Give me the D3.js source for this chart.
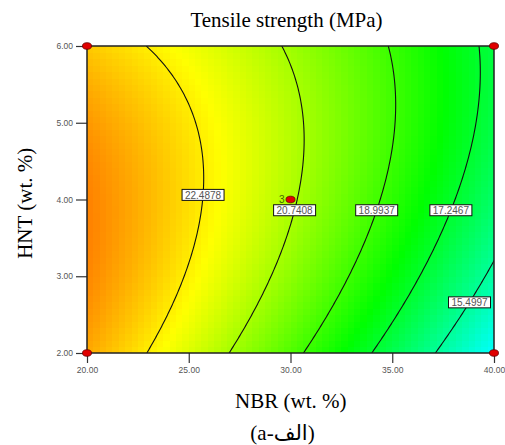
<!DOCTYPE html>
<html><head><meta charset="utf-8">
<script src="https://cdn.jsdelivr.net/npm/d3@7"></script>
<style>body{margin:0;background:#fff}</style>
</head><body>
<svg id="chart" width="505" height="445"></svg>
<script>
// ---- data ----
const nbrTicks = [20, 25, 30, 35, 40];
const hntTicks = [2, 3, 4, 5, 6];
const contourLevels = [22.4878, 20.7408, 18.9937, 17.2467, 15.4997];
const labelHNT = [4.06, 3.86, 3.86, 3.86, 2.66];
// fitted quadratic model in coded factors (A = NBR, B = HNT)
const modelTerms = ["Intercept", "A", "B", "AB", "A2", "B2"];
const modelCoefs = [20.873, -4.0, 0.65, 0.925, -0.6, -0.913];
const designNBR = [20, 20, 40, 40, 30];
const designHNT = [2, 6, 2, 6, 4];
const designLabels = ["", "", "", "", "3"];
const colorStops = [13.8, 24.3];
const hueStops = [180, 30];

const svg = d3.select("#chart");
const m = {l: 87, r: 494, t: 46, b: 353};
const x = d3.scaleLinear().domain([20, 40]).range([m.l, m.r]);
const y = d3.scaleLinear().domain([2, 6]).range([m.b, m.t]);
const hue = d3.scaleLinear().domain(colorStops).range(hueStops);

const [c0, cA, cB, cAB, cAA, cBB] = modelCoefs;
const codeA = v => (v - 30) / 10, codeB = v => (v - 4) / 2;
const f = (n, h) => { const a = codeA(n), b = codeB(h);
  return c0 + cA*a + cB*b + cAB*a*b + cAA*a*a + cBB*b*b; };
// solve for NBR on a contour at a given HNT
function solveNBR(L, h) {
  const b = codeB(h);
  const A = cAA, B = cA + cAB*b, C = c0 + cB*b + cBB*b*b - L;
  const d = B*B - 4*A*C; if (d < 0) return null;
  const r1 = (-B + Math.sqrt(d)) / (2*A), r2 = (-B - Math.sqrt(d)) / (2*A);
  const r = Math.abs(r1) < Math.abs(r2) ? r1 : r2;
  return 30 + 10*r;
}

// clip
svg.append("clipPath").attr("id", "clip").append("rect")
  .attr("x", m.l).attr("y", m.t).attr("width", m.r - m.l).attr("height", m.b - m.t);

// heat cells
const nCols = 64, nRows = 48;
const cells = [];
for (let i = 0; i < nCols; i++) for (let j = 0; j < nRows; j++) {
  const n0 = 20 + 20*i/nCols, n1 = 20 + 20*(i+1)/nCols;
  const h0 = 2 + 4*j/nRows, h1 = 2 + 4*(j+1)/nRows;
  cells.push({n0, n1, h0, h1, v: f((n0+n1)/2, (h0+h1)/2)});
}
svg.append("g").attr("clip-path", "url(#clip)").selectAll("rect").data(cells).join("rect")
  .attr("x", d => x(d.n0)).attr("y", d => y(d.h1))
  .attr("width", d => x(d.n1) - x(d.n0) + 0.6).attr("height", d => y(d.h0) - y(d.h1) + 0.6)
  .attr("fill", d => d3.hsl(hue(d.v), 1, 0.5).formatHex())
  .attr("shape-rendering", "crispEdges");

// contour lines
const hs = d3.range(0, 401).map(k => 2 + 4*k/400);
const line = d3.line().x(d => x(d[0])).y(d => y(d[1]));
const gC = svg.append("g").attr("clip-path", "url(#clip)");
contourLevels.forEach(L => {
  const pts = hs.map(h => [solveNBR(L, h), h]).filter(p => p[0] !== null && p[0] <= 42 && p[0] >= 18);
  gC.append("path").attr("d", line(pts)).attr("fill", "none")
    .attr("stroke", "#111").attr("stroke-width", 1.1);
});

// axes
const xAxis = d3.axisBottom(x).tickValues(nbrTicks).tickSize(10).tickFormat(d3.format(".2f"));
const yAxis = d3.axisLeft(y).tickValues(hntTicks).tickSize(11).tickFormat(d3.format(".2f"));
const gx = svg.append("g").attr("transform", `translate(0,${m.b})`).call(xAxis);
const gy = svg.append("g").attr("transform", `translate(${m.l},0)`).call(yAxis);
[gx, gy].forEach(g => {
  g.select(".domain").remove();
  g.selectAll(".tick line").attr("stroke", "#333").attr("stroke-width", 1.2);
  g.selectAll(".tick text").attr("fill", "#555").attr("font-family", "Arial, 'Liberation Sans', sans-serif")
    .attr("font-size", 8.5);
});
gx.selectAll(".tick text").attr("dy", "0.4em").attr("y", 17);
gy.selectAll(".tick text").attr("x", -14);

// border
svg.append("rect").attr("x", m.l).attr("y", m.t).attr("width", m.r - m.l).attr("height", m.b - m.t)
  .attr("fill", "none").attr("stroke", "#222").attr("stroke-width", 1.5);

// contour labels
const gL = svg.append("g");
contourLevels.forEach((L, i) => {
  const h = labelHNT[i], n = solveNBR(L, h);
  const cx = x(n), cy = y(h);
  gL.append("rect").attr("x", cx - 21).attr("y", cy - 5.5).attr("width", 42).attr("height", 11)
    .attr("fill", "#fff").attr("stroke", "#111").attr("stroke-width", 1);
  gL.append("text").attr("x", cx).attr("y", cy + 3.8).attr("text-anchor", "middle")
    .attr("font-family", "Arial, 'Liberation Sans', sans-serif").attr("font-size", 10)
    .attr("fill", "#555").text(L.toFixed(4));
});

// design points
const gP = svg.append("g");
designNBR.forEach((n, i) => {
  gP.append("ellipse").attr("cx", x(n)).attr("cy", y(designHNT[i])).attr("rx", 4.5).attr("ry", 3.3)
    .attr("fill", "#e00000").attr("stroke", "#600").attr("stroke-width", 0.8);
  if (designLabels[i]) gP.append("text").attr("x", x(n) - 6).attr("y", y(designHNT[i]) + 3.5)
    .attr("text-anchor", "end").attr("font-family", "Arial, 'Liberation Sans', sans-serif")
    .attr("font-size", 10).attr("fill", "#3f6b00").text(designLabels[i]);
});

// titles
const serif = "'Liberation Serif', 'Times New Roman', serif";
svg.append("text").attr("x", 286.5).attr("y", 27).attr("text-anchor", "middle")
  .attr("font-family", serif).attr("font-size", 21).text("Tensile strength (MPa)");
svg.append("text").attr("x", 290.8).attr("y", 408).attr("text-anchor", "middle")
  .attr("font-family", serif).attr("font-size", 21).text("NBR (wt. %)");
svg.append("text").attr("transform", "translate(32,203.3) rotate(-90)").attr("text-anchor", "middle")
  .attr("font-family", serif).attr("font-size", 21).text("HNT (wt. %)");
svg.append("text").attr("x", 282.5).attr("y", 440).attr("text-anchor", "middle")
  .attr("font-family", serif + ", 'DejaVu Sans'").attr("font-size", 21).text("(a-الف)");
</script>
</body></html>
